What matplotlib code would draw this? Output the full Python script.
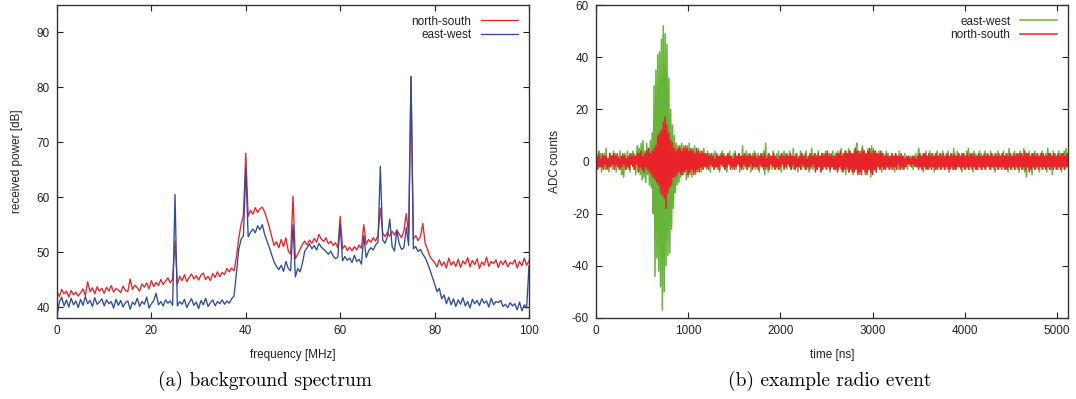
import numpy as np
import matplotlib
matplotlib.use("Agg")
import matplotlib.pyplot as plt

# ---------------- data: background spectrum (0.5 MHz steps) ----------------
freq_start, freq_step = 0.0, 0.5
ns_power = [
    42.8, 41.9, 43.2, 42.4, 42.9, 41.8, 43.0, 42.2, 42.7, 42.0,
    42.6, 43.3, 42.1, 44.6, 42.8, 43.5, 42.4, 43.7, 42.9, 43.4,
    42.5, 43.6, 42.9, 43.9, 42.7, 43.4, 43.1, 42.6, 43.8, 43.0,
    42.8, 45.1, 43.2, 44.0, 43.5, 42.9, 44.2, 43.6, 44.4, 43.3,
    44.8, 43.7, 44.5, 43.9, 45.0, 44.1, 44.7, 45.3, 44.4, 45.1,
    52.0, 44.2, 45.6, 44.8, 45.9, 44.6, 45.4, 46.0, 45.1, 45.7,
    44.9, 45.8, 46.2, 45.0, 45.6, 44.8, 46.1, 45.4, 46.4, 45.5,
    46.3, 45.9, 47.0, 46.4, 47.1, 46.6, 49.0, 52.5, 55.0, 56.8,
    68.0, 56.5, 57.6, 56.9, 58.1, 57.2, 57.9, 58.2, 57.3, 56.0,
    54.5, 52.8, 51.2, 51.9, 50.8, 52.3, 51.0, 52.6, 50.2, 49.6,
    60.2, 48.8, 49.6, 50.5, 51.4, 52.0, 51.3, 52.2, 51.6, 52.5,
    51.8, 53.2, 52.4, 51.9, 52.6, 51.5, 52.0, 51.2, 51.7, 50.8,
    56.5, 50.6, 51.2, 50.3, 50.9, 50.2, 51.0, 50.4, 51.3, 50.7,
    55.0, 51.4, 52.3, 51.8, 52.6, 52.0, 53.0, 58.0, 53.5, 52.8,
    53.6, 52.9, 53.8, 53.1, 54.0, 53.3, 52.6, 53.9, 57.0, 53.2,
    82.0, 52.4, 53.0, 52.1, 52.8, 55.2, 51.6, 50.5, 49.2, 48.6,
    48.1, 47.3, 48.6, 47.5, 48.2, 47.1, 48.9, 47.6, 48.3, 47.4,
    48.7, 47.2, 48.4, 47.8, 49.0, 47.3, 48.5, 47.7, 48.8, 47.0,
    48.2, 47.6, 49.1, 47.4, 48.3, 47.9, 48.6, 47.2, 48.4, 47.7,
    48.5, 47.3, 48.1, 47.8, 48.6, 47.1, 48.3, 47.5, 48.9, 47.6,
    48.4,
]
ew_power = [
    38.5, 40.9, 41.8, 40.2, 41.3, 40.0, 41.6, 40.4, 41.1, 39.9,
    41.4, 40.3, 41.9, 40.6, 41.2, 40.1, 41.7, 40.5, 40.9, 41.5,
    40.2, 41.3, 40.6, 41.0, 39.8, 41.4, 40.3, 41.2, 40.0, 40.8,
    41.1, 39.6, 40.9, 40.4, 41.6, 40.1, 41.0, 40.5, 41.8, 39.8,
    40.6, 41.2, 42.5, 40.4, 41.0, 40.2, 41.3, 40.7, 41.1, 40.3,
    60.5, 40.2, 41.0, 40.5, 41.4, 39.9, 40.8, 41.5, 40.3, 40.9,
    39.7, 41.2, 40.4, 41.6, 40.1, 40.8, 41.3, 40.2, 41.0, 40.6,
    41.3, 40.5, 41.1, 40.7, 41.5, 42.0, 46.0, 50.5, 52.3, 53.0,
    65.3, 52.8, 53.6, 54.2, 53.5, 54.8, 54.1, 55.0, 53.2, 52.0,
    50.8, 49.5, 48.2, 47.4, 46.8, 47.6, 46.5, 48.3, 47.0, 46.6,
    55.0, 45.5, 47.0, 46.4, 48.0, 50.2, 50.8, 51.5, 50.6, 51.2,
    50.4, 51.6, 50.9, 50.5, 50.1, 49.6, 50.2, 49.3, 48.8, 49.1,
    55.0, 48.4, 49.2, 48.5, 48.9, 48.1, 49.4, 48.3, 48.7, 47.8,
    53.0, 49.0, 50.2, 50.8, 50.4, 51.3, 51.8, 65.6, 52.2, 51.6,
    52.8, 56.0, 51.0, 50.2, 54.0, 51.5, 50.5, 50.8, 54.5, 51.2,
    82.0, 50.6, 51.0, 50.1, 50.5, 49.6, 49.0, 48.0, 46.8, 45.5,
    44.2, 42.8, 43.4, 41.5, 42.2, 40.6, 41.8, 40.4, 41.5, 40.1,
    41.3, 40.5, 41.7, 40.2, 41.0, 39.8, 41.4, 40.6, 41.2, 40.3,
    41.5, 40.7, 41.1, 40.0, 41.6, 40.4, 41.0, 40.8, 41.2, 40.1,
    40.5, 39.9, 40.8, 40.2, 40.6, 39.5, 40.9, 39.3, 40.4, 39.8,
    47.5,
]

# ---------------- data: radio event trace (10 ns steps) ----------------
time_start, time_step = 0.0, 10.0
ew_adc = [
    2, -3, 1, 4, -2, 3, -4, 2, -1, 3, -3, 5, -2, 1, -4, 3, -1, 2, -3, 4,
    -2, 3, -4, 1, 2, -3, 4, -1, -5, 2, -6, 3, 1, -3, 4, -2, 2, -4, 3, -1,
    4, -3, 2, -5, 3, 6, -4, 5, -5, 7, -7, 8, -6, 4, -8, 7, -5, 5, -9, 8,
    -10, 11, -20, 29, -44, 35, -37, 41, -42, 42, -48, 47, -57, 52, -50, 49, -40, 45, -36, 32,
    -35, 20, -26, 14, -18, 10, -12, 7, -9, 6, -8, 5, -6, 7, -5, 6, -4, 5, -7, 6,
    -6, 7, -5, 4, -6, 5, -3, 6, -5, 3, -4, 5, -2, 4, -4, 3, -3, 5, -2, 2,
    -3, 4, -2, 3, -4, 2, -1, 3, -3, 4, -2, 1, -3, 2, -4, 3, -1, 4, -2, 3,
    -3, 2, -4, 3, -1, 4, -2, 1, -3, 3, -2, 4, -3, 2, -1, 3, -4, 2, -2, 6,
    -3, 2, -1, 4, -3, 3, -2, 2, -4, 1, 3, -2, 4, -3, 2, -1, 3, -4, 2, -2,
    3, -2, 4, -5, 7, -3, 2, -4, 3, -1, 2, -3, 4, -2, 1, -3, 3, -2, 4, -3,
    2, -4, 3, -1, 4, -2, 3, -3, 2, -1, 4, -3, 2, -2, 5, -3, 1, -2, 3, -4,
    2, -1, 4, -3, 3, -2, 1, -3, 4, -2, 2, -4, 3, -1, 5, -3, 2, -2, 3, -1,
    -3, 4, -2, 2, -4, 3, -1, 3, -2, 4, -3, 2, -1, 3, -4, 2, -2, 4, -3, 1,
    3, -2, 4, -3, 2, -1, 5, -4, 3, -2, 4, -5, 3, -3, 5, -4, 4, -2, 3, -5,
    4, -3, 5, 7, -4, 3, -5, 4, -3, 6, -2, 4, -5, 3, -4, 5, -3, 4, -6, 6,
    -5, 5, -3, 4, -4, 3, -2, 4, -3, 2, -4, 3, -1, 2, -3, 4, -2, 3, -2, 1,
    -3, 3, -2, 2, -4, 3, -1, 2, -3, 4, -2, 1, -3, 2, -1, 3, -2, 1, -3, 2,
    -1, 2, -2, 1, -3, 2, -1, 3, -2, 1, 5, -2, 3, -3, 2, -4, 3, -1, 4, -2,
    2, -3, 4, -2, 3, -1, 2, -4, 3, -2, 4, -3, 2, -1, 3, -3, 4, -2, 1, -3,
    3, -2, 4, -4, 2, -1, 3, -3, 5, -2, 2, -3, 4, -1, 3, -2, 2, -4, 3, -1,
    2, -3, 4, -2, 5, -3, 3, -1, 2, -4, 4, -2, 3, -3, 2, -1, 4, -2, 3, -3,
    2, -2, 4, -3, 3, -1, 2, -3, 4, -2, 3, -1, 2, -4, 3, -2, 4, -3, 2, -2,
    3, -1, 4, -3, 2, -2, 3, -4, 5, -2, 3, -3, 2, -1, 4, -3, 3, -2, 2, -4,
    4, -2, 3, -3, 5, -4, 2, -6, 3, -2, 4, -3, 2, -5, 3, -2, 4, -3, 3, -2,
    2, -4, 3, -2, 4, -3, 2, -1, 3, -4, 5, -2, 3, -3, 2, -5, 4, -2, 3, -3,
    2, -3, 4, -2, 3, -4, 3, -2, 4, -3, 5, -2, 3,
]
ns_adc = [
    -1, 2, -3, 3, -2, 1, -2, 3, -3, 2, -1, 2, -3, 1, -2, 3, -2, 2, -1, 3,
    -3, 2, -1, 3, -2, 1, -3, 2, -2, 3, -1, 2, -3, 1, -2, 2, -3, 3, -1, 2,
    -2, 3, -3, 2, -1, 3, -4, 3, -2, 4, -3, 2, -4, 3, -2, 4, -3, 5, -4, 3,
    -5, 4, -6, 5, -7, 6, -8, 10, -9, 11, -12, 12, -13, 15, -14, 17, -18, 14, -12, 11,
    -10, 8, -9, 7, -6, 5, -6, 4, -5, 5, -4, 6, -5, 4, -5, 5, -4, 6, -3, 5,
    -5, 4, -4, 5, -3, 4, -5, 3, -4, 5, -3, 4, -4, 3, -2, 4, -3, 3, -2, 3,
    -2, 3, -3, 2, -1, 3, -2, 2, -3, 1, -2, 3, -2, 2, -3, 2, -1, 3, -2, 2,
    -3, 2, -2, 3, -1, 2, -3, 2, -2, 1, -3, 3, -2, 2, -1, 3, -2, 2, -3, 2,
    -1, 3, -2, 2, -3, 2, -2, 3, -1, 2, -3, 2, -2, 3, -2, 1, -3, 2, -1, 3,
    -2, 2, -3, 3, -2, 1, -2, 3, -3, 2, -1, 2, -2, 3, -3, 2, -2, 1, -3, 2,
    -2, 3, -1, 2, -3, 2, -2, 3, -1, 2, -2, 3, -3, 2, -1, 2, -3, 3, -2, 1,
    -2, 2, -3, 3, -1, 2, -2, 3, -3, 1, -2, 2, -3, 3, -2, 2, -1, 3, -4, 2,
    -3, 3, -2, 2, -4, 3, -3, 2, -2, 3, -3, 4, -2, 2, -3, 3, -2, 2, -3, 2,
    -3, 3, -4, 3, -2, 4, -3, 2, -4, 3, -3, 4, -2, 3, -4, 4, -3, 3, -4, 3,
    -4, 5, -3, 4, -5, 4, -4, 3, -5, 5, -3, 4, -4, 3, -5, 4, -3, 5, -4, 3,
    -5, 4, -3, 4, -4, 3, -2, 3, -3, 4, -2, 3, -3, 2, -3, 3, -2, 2, -3, 2,
    -2, 3, -3, 2, -2, 3, -3, 2, -1, 2, -3, 3, -2, 2, -3, 1, -2, 2, -1, 2,
    -1, 1, -2, 2, -1, 2, -2, 1, -2, 2, -3, 3, -2, 2, -3, 3, -2, 3, -3, 2,
    -3, 3, -2, 2, -3, 3, -2, 2, -3, 3, -3, 2, -2, 3, -3, 2, -2, 3, -3, 2,
    -2, 3, -3, 2, -3, 3, -2, 2, -3, 3, -3, 2, -2, 3, -2, 2, -3, 3, -2, 3,
    -3, 2, -2, 3, -3, 2, -2, 3, -3, 3, -2, 2, -3, 2, -3, 3, -2, 2, -3, 2,
    -2, 3, -3, 2, -2, 3, -2, 2, -3, 3, -2, 2, -3, 3, -2, 2, -3, 3, -2, 2,
    -3, 3, -2, 2, -3, 3, -3, 2, -2, 3, -3, 2, -2, 3, -3, 2, -2, 3, -3, 3,
    -2, 3, -3, 2, -2, 4, -3, 3, -2, 3, -4, 2, -3, 3, -2, 3, -3, 2, -2, 3,
    -3, 2, -2, 3, -3, 3, -2, 2, -3, 2, -2, 3, -3, 3, -2, 2, -3, 3, -2, 2,
    -3, 3, -2, 2, -3, 3, -2, 3, -3, 2, -2, 3, -2,
]

spec_xticks = [0, 20, 40, 60, 80, 100]
spec_yticks = [40, 50, 60, 70, 80, 90]
time_xticks = [0, 1000, 2000, 3000, 4000, 5000]
time_yticks = [-60, -40, -20, 0, 20, 40, 60]

# ---------------- styling ----------------
RED = "#e8232a"
BLUE = "#2e4b9e"
GREEN = "#67b43a"
TXT = "#222222"

plt.rcParams["font.family"] = ["Liberation Sans", "DejaVu Sans"]
plt.rcParams["font.size"] = 8
plt.rcParams["axes.unicode_minus"] = False

fig = plt.figure(figsize=(10.76, 3.99), dpi=100)
ax1 = fig.add_axes([57 / 1076, 1 - 318 / 399, (529 - 57) / 1076, (318 - 5) / 399])
ax2 = fig.add_axes([596 / 1076, 1 - 318 / 399, (1068 - 596) / 1076, (318 - 5) / 399])

freq = freq_start + freq_step * np.arange(len(ns_power))
ax1.plot(freq, ns_power, color=RED, lw=0.95, label="north-south")
ax1.plot(freq, ew_power, color=BLUE, lw=0.95, label="east-west")
ax1.set_xlim(0, 100)
ax1.set_ylim(38, 95)
ax1.set_xticks(spec_xticks)
ax1.set_yticks(spec_yticks)
ax1.set_xlabel("frequency [MHz]", labelpad=9, fontsize=8.5)
ax1.set_ylabel("received power [dB]", labelpad=10, fontsize=8.5)

t = time_start + time_step * np.arange(len(ew_adc))
ax2.plot(t, ew_adc, color=GREEN, lw=1.1, label="east-west")
ax2.plot(t, ns_adc, color=RED, lw=1.1, label="north-south")
ax2.set_xlim(0, 5120)
ax2.set_ylim(-60, 60)
ax2.set_xticks(time_xticks)
ax2.set_yticks(time_yticks)
ax2.set_xlabel("time [ns]", labelpad=9, fontsize=8.5)
ax2.set_ylabel("ADC counts", labelpad=8, fontsize=8.5)

for ax in (ax1, ax2):
    ax.tick_params(direction="in", top=True, right=True, length=4, width=0.8,
                   labelsize=8.5, colors=TXT, pad=5)
    for s in ax.spines.values():
        s.set_linewidth(1.0)
        s.set_color("#333333")
    ax.xaxis.label.set_color(TXT)
    ax.yaxis.label.set_color(TXT)
    leg = ax.legend(loc="upper right", frameon=False, markerfirst=False,
                    handlelength=3.2, handletextpad=0.8, labelspacing=0.15,
                    borderaxespad=0.5, fontsize=8.5)
    for txt in leg.get_texts():
        txt.set_ha("right")
        txt.set_color(TXT)

fig.text(265 / 1076, 1 - 381 / 399, "(a) background spectrum", ha="center",
         va="center", fontsize=14, family=["cmr10", "DejaVu Serif"])
fig.text(830 / 1076, 1 - 381 / 399, "(b) example radio event", ha="center",
         va="center", fontsize=14, family=["cmr10", "DejaVu Serif"])

fig.savefig("out.png", dpi=100)
